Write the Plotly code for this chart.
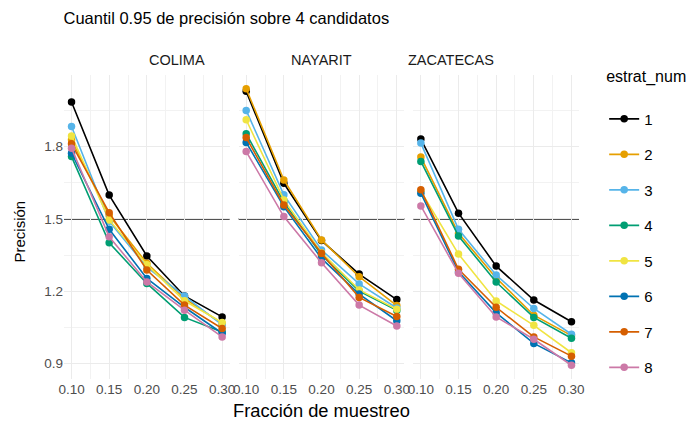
import plotly.graph_objects as go

fracciones = [0.10, 0.15, 0.20, 0.25, 0.30]
estados = ["COLIMA", "NAYARIT", "ZACATECAS"]
estratos = ["1", "2", "3", "4", "5", "6", "7", "8"]
colores = ["#000000", "#E69F00", "#56B4E9", "#009E73",
           "#F0E442", "#0072B2", "#D55E00", "#CC79A7"]

# one row per estrato, values for each fraccion
colima = [
    [1.986, 1.599, 1.346, 1.180, 1.093],
    [1.829, 1.514, 1.316, 1.170, 1.065],
    [1.884, 1.490, 1.300, 1.180, 1.060],
    [1.759, 1.401, 1.232, 1.091, 1.030],
    [1.845, 1.496, 1.310, 1.160, 1.070],
    [1.773, 1.457, 1.253, 1.133, 1.025],
    [1.812, 1.526, 1.288, 1.142, 1.045],
    [1.794, 1.426, 1.238, 1.121, 1.010],
]
nayarit = [
    [2.030, 1.648, 1.410, 1.271, 1.165],
    [2.041, 1.662, 1.413, 1.260, 1.140],
    [1.951, 1.600, 1.371, 1.230, 1.130],
    [1.854, 1.570, 1.350, 1.200, 1.120],
    [1.912, 1.579, 1.360, 1.205, 1.125],
    [1.818, 1.551, 1.336, 1.188, 1.077],
    [1.838, 1.558, 1.357, 1.174, 1.095],
    [1.780, 1.510, 1.318, 1.142, 1.055],
]
zacatecas = [
    [1.832, 1.524, 1.304, 1.163, 1.073],
    [1.757, 1.440, 1.255, 1.100, 1.015],
    [1.815, 1.457, 1.267, 1.128, 1.021],
    [1.739, 1.429, 1.238, 1.091, 1.004],
    [1.615, 1.354, 1.159, 1.058, 0.944],
    [1.607, 1.280, 1.110, 0.983, 0.902],
    [1.621, 1.291, 1.133, 1.010, 0.930],
    [1.554, 1.274, 1.093, 1.000, 0.892],
]
umbral = 1.5

# the page body adds an 8px offset, margins compensate for it
W, H = 698, 433
ml, mr, mt, mb = 55.5, 127, 67, 62
pw = W - ml - mr
ph = H - mt - mb
gap = 9 / pw
panel = (1 - 2 * gap) / 3

fig = go.Figure()
font = "Liberation Sans, Arial, sans-serif"

for i, (estado, datos) in enumerate(zip(estados, [colima, nayarit, zacatecas])):
    ax = "" if i == 0 else str(i + 1)
    for j, vals in enumerate(datos):
        fig.add_trace(go.Scatter(
            x=fracciones, y=vals, mode="lines+markers",
            name=estratos[j], legendgroup=estratos[j], showlegend=(i == 0),
            line=dict(color=colores[j], width=1.6),
            marker=dict(color=colores[j], size=7.5),
            xaxis="x" + ax, yaxis="y" + ax,
        ))
    fig.add_shape(type="line", xref="x" + ax + " domain", yref="y" + ax,
                  x0=0, x1=1, y0=umbral, y1=umbral,
                  line=dict(color="#1A1A1A", width=1.6), layer="below")
    d0 = i * (panel + gap)
    fig.add_annotation(text=estado, x=d0 + panel / 2, y=1 + 15 / ph, xref="paper", yref="paper",
                       yanchor="middle", showarrow=False,
                       font=dict(size=14.5, color="#1A1A1A", family=font))
    fig.layout["xaxis" + ax] = dict(
        domain=[d0, d0 + panel], range=[0.09, 0.31], anchor="y" + ax,
        tickvals=fracciones, tickformat=".2f", showline=False, zeroline=False,
        gridcolor="#EBEBEB", gridwidth=1.1, ticks="", automargin=False,
        tickfont=dict(size=13.5, color="#4D4D4D", family=font),
        minor=dict(dtick=0.05, tick0=0.125, showgrid=True, gridcolor="#F2F2F2", gridwidth=0.6),
    )
    fig.layout["yaxis" + ax] = dict(
        range=[0.835, 2.098], anchor="x" + ax, tick0=0.9, dtick=0.3,
        showticklabels=(i == 0), zeroline=False, showline=False,
        gridcolor="#EBEBEB", gridwidth=1.1, ticks="", automargin=False,
        tickfont=dict(size=13.5, color="#4D4D4D", family=font),
        minor=dict(dtick=0.3, tick0=1.05, showgrid=True, gridcolor="#F2F2F2", gridwidth=0.6),
    )

fig.add_annotation(text="Precisión", x=-(ml - 10) / pw, y=0.5 - 5 / ph, xref="paper", yref="paper",
                   textangle=-90, showarrow=False, xanchor="center", yanchor="middle",
                   font=dict(size=15, color="#000000", family=font))
fig.add_annotation(text="Fracción de muestreo", x=0.5, y=-31 / ph, xref="paper", yref="paper",
                   yanchor="middle", showarrow=False,
                   font=dict(size=18.3, color="#000000", family=font))

fig.update_layout(
    width=W, height=H,
    margin=dict(l=ml, r=mr, t=mt, b=mb, autoexpand=False),
    paper_bgcolor="white", plot_bgcolor="white",
    title=dict(text="Cuantil 0.95 de precisión sobre 4 candidatos", x=ml / W, xanchor="left",
               y=1 - 10 / H, yanchor="middle", pad=dict(l=0),
               font=dict(size=16.5, color="#000000", family=font)),
    legend=dict(
        title=dict(text="estrat_num<br> ", font=dict(size=16, color="#000000", family=font)),
        x=1.045 + 2 / pw, xanchor="left", y=1 + 14 / ph, yanchor="top",
        font=dict(size=15, color="#000000", family=font),
        tracegroupgap=13, itemwidth=30, maxheight=420,
    ),
)

fig.write_html("out.html")
